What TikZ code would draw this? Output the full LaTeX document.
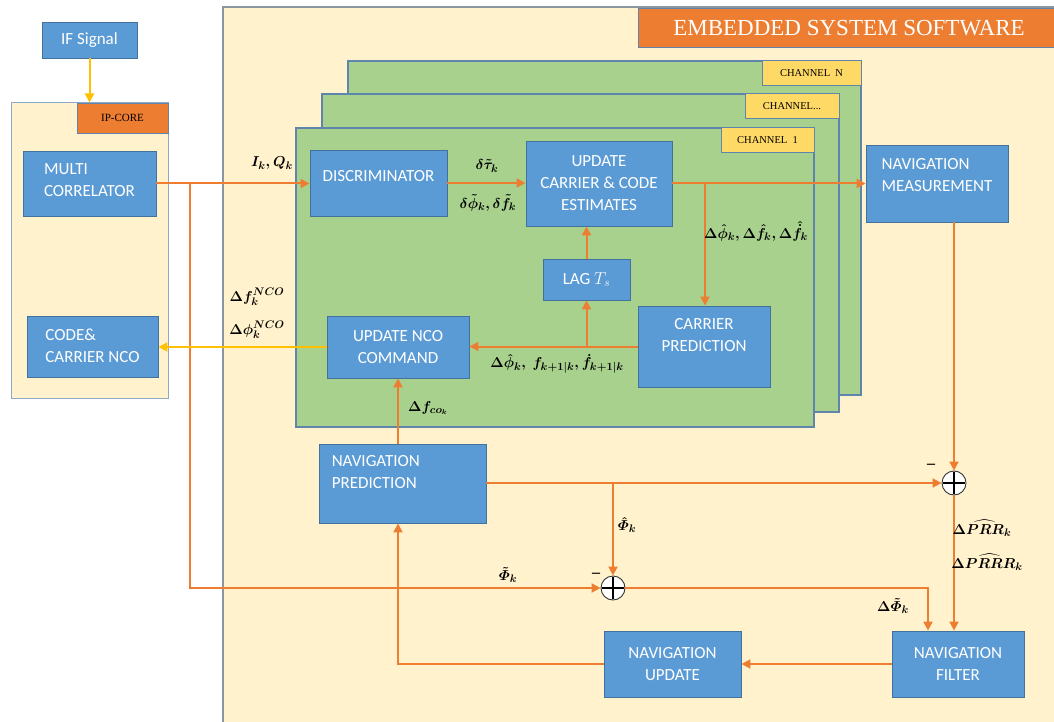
\documentclass[tikz,border=0pt]{standalone}
\usepackage{amsmath}
\usepackage{fontspec}
\setmainfont{Liberation Serif}
\newfontfamily\boxfont{Carlito}
\usetikzlibrary{arrows.meta}
\definecolor{bblue}{HTML}{5B9BD5}
\definecolor{bborder}{HTML}{41719C}
\definecolor{cream}{HTML}{FFF2CC}
\definecolor{plategreen}{HTML}{A9D18E}
\definecolor{plateborder}{HTML}{5F85AD}
\definecolor{orng}{HTML}{ED7D31}
\definecolor{gold}{HTML}{FFD966}
\definecolor{yarrow}{HTML}{FFC000}
\definecolor{framegray}{HTML}{8C96A3}
\tikzset{
  bbox/.style={draw=bborder, line width=0.9pt, fill=bblue, text=white,
    font=\boxfont\fontsize{17}{22}\selectfont, align=center, inner sep=0pt},
  btext/.style={text=white, font=\boxfont\fontsize{17}{22}\selectfont, inner sep=0pt},
  plate/.style={draw=plateborder, line width=1.2pt, fill=plategreen, inner sep=0pt},
  chlabel/.style={draw=plateborder, line width=1pt, fill=gold, inner sep=0pt,
    font=\fontsize{10.5}{12}\selectfont},
  mlabel/.style={font=\fontsize{15}{17}\selectfont\boldmath, inner sep=1pt},
  arr/.style={draw=orng, line width=2pt, -{Triangle[length=9pt,width=9pt]}},
  yarr/.style={draw=yarrow, line width=2pt, -{Triangle[length=9pt,width=9pt]}},
  ln/.style={draw=orng, line width=2pt},
  sumnode/.style={circle, draw=black!80, line width=0.9pt, fill=white, minimum size=24pt, inner sep=0pt,
    path picture={\draw[black, line width=1.4pt]
      ([yshift=-1pt]path picture bounding box.north) -- ([yshift=1pt]path picture bounding box.south)
      ([xshift=1pt]path picture bounding box.west) -- ([xshift=-1pt]path picture bounding box.east);}},
  minus/.style={font=\bfseries\fontsize{16}{16}\selectfont, inner sep=0pt}
}
\begin{document}
\begin{tikzpicture}[x=1pt,y=-1pt]
\useasboundingbox (0,0) rectangle (1054,722);
\clip (0,0) rectangle (1054,722);
\fill[white] (0,0) rectangle (1054,722);

% embedded system software frame
\node[draw=framegray, line width=1.2pt, fill=cream, minimum width=840pt, minimum height=726pt, inner sep=0pt]
  (ess) at (643,370) {};
\node[draw=plateborder, line width=1pt, fill=orng, text=white, minimum width=422pt, minimum height=39pt,
  inner sep=0pt, font=\fontsize{23}{25}\selectfont] (title) at (849,28.5) {EMBEDDED SYSTEM SOFTWARE};

% IP core frame
\node[draw=plateborder!70, line width=1pt, fill=cream, minimum width=157pt, minimum height=295pt, inner sep=0pt]
  (ipc) at (89.5,250.5) {};
\node[draw=plateborder, line width=0.8pt, fill=orng, minimum width=91pt, minimum height=30pt, inner sep=0pt,
  font=\fontsize{11}{12}\selectfont] (iplabel) at (122.5,118) {IP-CORE};

% channel plates
\node[plate, minimum width=513pt, minimum height=334pt] (chN) at (604.5,228) {};
\node[chlabel, minimum width=99pt, minimum height=25pt] (lN) at (811.5,73.5) {CHANNEL\ \ N};
\node[plate, minimum width=517pt, minimum height=318pt] (chD) at (580.5,253) {};
\node[chlabel, minimum width=94pt, minimum height=25pt] (lD) at (792,106.5) {CHANNEL...};
\node[plate, minimum width=518pt, minimum height=299pt] (ch1) at (555,277.5) {};
\node[chlabel, minimum width=93pt, minimum height=25pt] (l1) at (767.5,140.5) {CHANNEL\ \ 1};

% blue boxes
\node[bbox, minimum width=95pt, minimum height=36pt] (ifs) at (89.5,40) {IF Signal};
\node[bbox, minimum width=133pt, minimum height=65pt] (mc) at (89.5,183.5) {};
\node[btext, align=left] at ([yshift=3pt]mc.center) {MULTI\\CORRELATOR};
\node[bbox, minimum width=131pt, minimum height=61pt] (ncob) at (92.5,346.5) {};
\node[btext, align=left] at ([yshift=1pt]ncob.center) {CODE\&\\CARRIER NCO};
\node[bbox, minimum width=137pt, minimum height=66pt] (disc) at (378.5,183) {};
\node[btext] at ([yshift=7pt]disc.center) {DISCRIMINATOR};
\node[bbox, minimum width=146pt, minimum height=85pt] (upd) at (599,183.5) {UPDATE\\CARRIER \& CODE\\ESTIMATES};
\node[bbox, minimum width=87pt, minimum height=41pt] (lag) at (586.5,279.5) {LAG $T_s$};
\node[bbox, minimum width=132pt, minimum height=81pt] (cp) at (704,346.5) {};
\node[btext, align=center] at ([yshift=11pt]cp.center) {CARRIER\\PREDICTION};
\node[bbox, minimum width=142pt, minimum height=62pt] (nco) at (398,347) {UPDATE NCO\\COMMAND};
\node[bbox, minimum width=142pt, minimum height=77pt] (nm) at (937,183.5) {};
\node[btext, align=left] at ([yshift=8pt]nm.center) {NAVIGATION\\MEASUREMENT};
\node[bbox, minimum width=167pt, minimum height=79pt] (np) at (402.5,483.5) {};
\node[btext, align=left, anchor=north west] at ([xshift=13pt,yshift=-12pt]np.north west) {NAVIGATION\\PREDICTION};
\node[bbox, minimum width=137pt, minimum height=66pt] (nu) at (672.5,664) {NAVIGATION\\UPDATE};
\node[bbox, minimum width=132pt, minimum height=66pt] (nf) at (958,664) {NAVIGATION\\FILTER};

% summing junctions
\node[sumnode] (s1) at (954,483) {};
\node[sumnode] (s2) at (613,588) {};
\node[minus] at (931,466) {--};
\node[minus] at (596,575) {--};

% connectors
\draw[yarr] (ifs.south) -- (ifs.south |- ipc.north);
\coordinate (b1) at (190,183.5);
\draw[arr] (mc.east) -- (mc.east -| disc.west);
\draw[arr] (b1) |- (s2.west);
\draw[arr] (disc.east) -- (disc.east -| upd.west);
\coordinate (b2) at (705,183.5);
\draw[arr] (upd.east) -- (upd.east -| nm.west);
\draw[arr] (b2) -- (b2 |- cp.north);
\draw[arr] (cp.west) -- (cp.west -| nco.east);
\draw[arr] (lag.south |- cp.west) -- (lag.south);
\draw[arr] (lag.north) -- (lag.north |- upd.south);
\draw[yarr] (nco.west) -- (nco.west -| ncob.east);
\draw[arr] (nco.south |- np.north) -- (nco.south);
\draw[arr] (s1.west -| np.east) -- (s1.west);
\draw[arr] (s2.north |- s1.west) -- (s2.north);
\draw[arr] (s1.north |- nm.south) -- (s1.north);
\draw[arr] (s1.south) -- (s1.south |- nf.north);
\draw[arr] (s2.east) -| ([xshift=-30pt]nf.north);
\draw[arr] (nf.west) -- (nu.east);
\draw[arr] (nu.west) -| (nco.south |- np.south);

% math labels
\node[mlabel] at (272,163) {$I_k,Q_k$};
\node[mlabel] at (487,166) {$\delta\tilde{\tau}_k$};
\node[mlabel] at (488,203) {$\delta\tilde{\phi}_k,\delta\tilde{f}_k$};
\node[mlabel] at (756,231) {$\Delta\hat{\phi}_k,\Delta\hat{f}_k,\Delta\hat{\dot{f}}_k$};
\node[mlabel] at (257,297) {$\Delta f_k^{NCO}$};
\node[mlabel] at (257,330) {$\Delta\phi_k^{NCO}$};
\node[mlabel] at (557,364) {$\Delta\hat{\phi}_k,\ f_{k+1|k},\dot{f}_{k+1|k}$};
\node[mlabel] at (428,408) {$\Delta f_{co_k}$};
\node[mlabel] at (627,525) {$\hat{\varPhi}_k$};
\node[mlabel] at (508,575) {$\tilde{\varPhi}_k$};
\node[mlabel] at (982,528) {$\Delta\widehat{PRR}_k$};
\node[mlabel] at (987,562) {$\Delta\widehat{PRRR}_k$};
\node[mlabel] at (893,606) {$\Delta\tilde{\varPhi}_k$};
\end{tikzpicture}
\end{document}
